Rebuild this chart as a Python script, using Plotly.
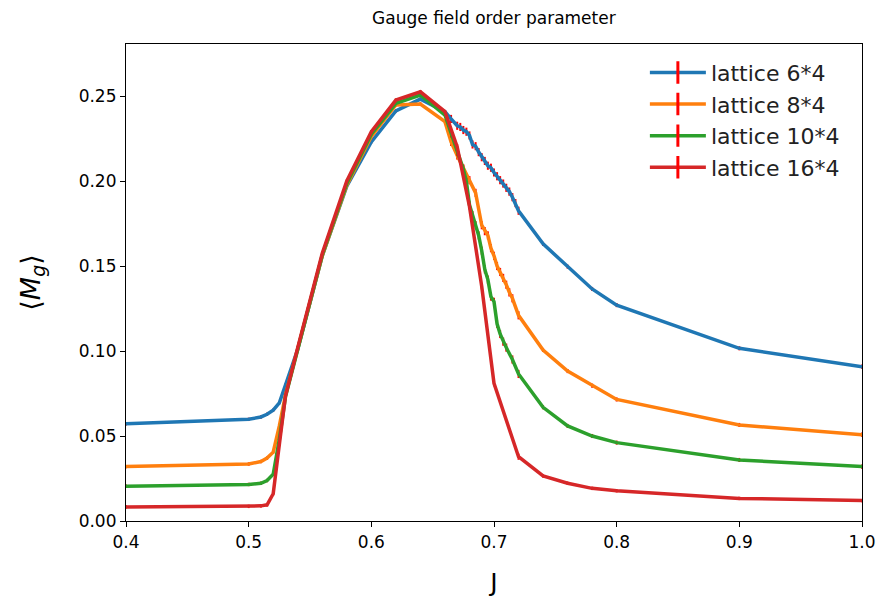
import plotly.graph_objects as go

# Common coupling values up to the peak
J_low = [0.40, 0.50, 0.51, 0.515, 0.52, 0.525, 0.53, 0.54, 0.56, 0.58, 0.60, 0.62, 0.64, 0.66]

# lattice 6*4
J_6 = J_low + [0.665, 0.67, 0.6725, 0.675, 0.6775, 0.68, 0.6825, 0.685, 0.6875, 0.69,
               0.6925, 0.695, 0.6975, 0.70, 0.7025, 0.705, 0.7075, 0.71, 0.7125, 0.715,
               0.7175, 0.72, 0.74, 0.76, 0.78, 0.80, 0.90, 1.00]
M_6 = [0.0572, 0.0598, 0.0612, 0.0628, 0.0652, 0.0695, 0.0800, 0.1010, 0.1560, 0.1970,
       0.2230, 0.2412, 0.2482, 0.2408,
       0.2365, 0.2325, 0.2318, 0.2300, 0.2290, 0.2268, 0.2215, 0.2205, 0.2170, 0.2140,
       0.2118, 0.2090, 0.2078, 0.2050, 0.2028, 0.2005, 0.1985, 0.1960, 0.1938, 0.1905,
       0.1870, 0.1825, 0.1630, 0.1496, 0.1365, 0.1270, 0.1016, 0.0908]

# lattice 8*4
J_8 = J_low + [0.665, 0.67, 0.675, 0.68, 0.685, 0.69, 0.6925, 0.695, 0.6975, 0.70,
               0.7025, 0.705, 0.7075, 0.71, 0.7125, 0.715, 0.72, 0.74, 0.76, 0.78,
               0.80, 0.90, 1.00]
M_8 = [0.0320, 0.0335, 0.0350, 0.0370, 0.0405, 0.0560, 0.0740, 0.1010, 0.1560, 0.1975,
       0.2262, 0.2447, 0.2453, 0.2349,
       0.2230, 0.2150, 0.2075, 0.2005, 0.1930, 0.1740, 0.1705, 0.1680, 0.1605, 0.1560,
       0.1500, 0.1465, 0.1430, 0.1390, 0.1345, 0.1310, 0.1210, 0.1006, 0.0882, 0.0796,
       0.0715, 0.0565, 0.0508]

# lattice 10*4
J_10 = J_low + [0.665, 0.67, 0.675, 0.6775, 0.68, 0.6825, 0.685, 0.6875, 0.69, 0.6925,
                0.695, 0.6975, 0.70, 0.7025, 0.705, 0.7075, 0.71, 0.715, 0.72, 0.74,
                0.76, 0.78, 0.80, 0.90, 1.00]
M_10 = [0.0205, 0.0215, 0.0222, 0.0238, 0.0275, 0.0480, 0.0730, 0.1010, 0.1565, 0.1985,
        0.2276, 0.2457, 0.2506, 0.2388,
        0.2280, 0.2170, 0.2070, 0.1995, 0.1860, 0.1800, 0.1740, 0.1680, 0.1590, 0.1480,
        0.1420, 0.1320, 0.1290, 0.1160, 0.1100, 0.1055, 0.1020, 0.0950, 0.0865, 0.0669,
        0.0559, 0.0500, 0.0461, 0.0359, 0.0320]

# lattice 16*4
J_16 = J_low + [0.67, 0.68, 0.69, 0.70, 0.72, 0.74, 0.76, 0.78, 0.80, 0.90, 1.00]
M_16 = [0.0083, 0.0086, 0.0089, 0.0095, 0.0160, 0.0450, 0.0735, 0.1020, 0.1575, 0.2000,
        0.2290, 0.2476, 0.2525, 0.2408,
        0.2200, 0.1850, 0.1380, 0.0810, 0.0378, 0.0265, 0.0222, 0.0192, 0.0178, 0.0133,
        0.0120]

# statistical errors on <M_g>
ERR_6 = [0.0010] * 14 + [0.0024] * 22 + [0.0012] * 6
ERR_8 = [0.0010] * 14 + [0.0024] * 17 + [0.0012] * 6
ERR_10 = [0.0010] * 14 + [0.0024] * 19 + [0.0012] * 6
ERR_16 = [0.0010] * 14 + [0.0018] * 5 + [0.0010] * 6

series = [
    ("lattice 6*4", J_6, M_6, ERR_6, "#1f77b4"),
    ("lattice 8*4", J_8, M_8, ERR_8, "#ff7f0e"),
    ("lattice 10*4", J_10, M_10, ERR_10, "#2ca02c"),
    ("lattice 16*4", J_16, M_16, ERR_16, "#d62728"),
]

FONT = "DejaVu Sans"

fig = go.Figure()
for name, xs, ys, errs, color in series:
    fig.add_trace(go.Scatter(
        x=xs, y=ys, mode="lines", name=name, legendgroup=name, showlegend=False,
        line=dict(color=color, width=3.5),
        error_y=dict(type="data", array=errs, visible=True, color="red",
                     thickness=2, width=0),
    ))
    # legend entry: line with a red error tick
    fig.add_trace(go.Scatter(
        x=[None], y=[None], mode="lines+markers", name=name, legendgroup=name,
        line=dict(color=color, width=3.5),
        marker=dict(symbol="line-ns", size=16, color="red",
                    line=dict(color="red", width=3)),
    ))

axis_common = dict(
    showgrid=False, zeroline=False, showline=True, linecolor="black", linewidth=1.2,
    mirror=True, ticks="outside", ticklen=5, tickwidth=1.2, tickcolor="black",
    tickfont=dict(family=FONT, size=17, color="black"), automargin=False,
)

fig.update_layout(
    width=882, height=600,
    margin=dict(l=126, r=20, t=44, b=79, autoexpand=False),
    paper_bgcolor="white", plot_bgcolor="white",
    font=dict(family=FONT, color="black"),
    title=dict(text="Gauge field order parameter", x=0.56, xanchor="center",
               y=0.97, yanchor="middle", font=dict(family=FONT, size=17)),
    xaxis=dict(range=[0.4, 1.0], tickvals=[0.4, 0.5, 0.6, 0.7, 0.8, 0.9, 1.0],
               tickformat=".1f",
               title=dict(text="J", font=dict(family=FONT, size=25), standoff=22),
               **axis_common),
    yaxis=dict(range=[0, 0.2806], tickvals=[0, 0.05, 0.10, 0.15, 0.20, 0.25],
               tickformat=".2f",
               title=dict(text="⟨<i>M</i><sub><i>g</i></sub>⟩",
                          font=dict(family=FONT, size=27), standoff=30),
               **axis_common),
    legend=dict(x=0.705, y=0.984, xanchor="left", yanchor="top",
                bgcolor="rgba(0,0,0,0)", borderwidth=0,
                font=dict(family=FONT, size=22, color="#222"),
                tracegroupgap=0, itemwidth=56, traceorder="grouped"),
    showlegend=True,
)

fig.write_html("out.html")
